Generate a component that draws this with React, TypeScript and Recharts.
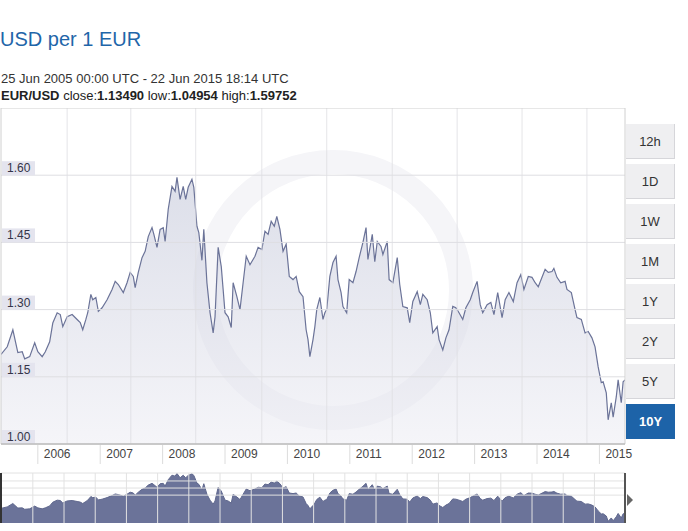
import {
  ComposedChart,
  Area,
  XAxis,
  YAxis,
  ReferenceLine,
} from 'recharts'

// decimal years
const times = [
  2005.41, 2005.51, 2005.6, 2005.68, 2005.75, 2005.79, 2005.87, 2005.95, 2006.0, 2006.07,
  2006.12, 2006.19, 2006.24, 2006.31, 2006.36, 2006.4, 2006.47, 2006.55, 2006.63, 2006.68,
  2006.72, 2006.77, 2006.8, 2006.85, 2006.88, 2006.93, 2006.97, 2007.0, 2007.03, 2007.11,
  2007.19, 2007.24, 2007.29, 2007.37, 2007.43, 2007.48, 2007.53, 2007.56, 2007.61, 2007.67,
  2007.72, 2007.77, 2007.83, 2007.86, 2007.91, 2007.96, 2008.01, 2008.04, 2008.09, 2008.15,
  2008.2, 2008.23, 2008.28, 2008.33, 2008.37, 2008.41, 2008.47, 2008.5, 2008.55, 2008.58,
  2008.63, 2008.66, 2008.71, 2008.76, 2008.81, 2008.84, 2008.89, 2008.94, 2008.97, 2009.0,
  2009.05, 2009.1, 2009.13, 2009.19, 2009.24, 2009.29, 2009.34, 2009.4, 2009.48, 2009.53,
  2009.59, 2009.64, 2009.69, 2009.74, 2009.79, 2009.83, 2009.88, 2009.93, 2009.98, 2010.03,
  2010.09, 2010.14, 2010.19, 2010.25, 2010.3, 2010.33, 2010.36, 2010.41, 2010.44, 2010.47,
  2010.52, 2010.57, 2010.6, 2010.63, 2010.68, 2010.73, 2010.78, 2010.81, 2010.86, 2010.89,
  2010.95, 2010.99, 2011.05, 2011.1, 2011.15, 2011.21, 2011.26, 2011.29, 2011.36, 2011.4,
  2011.44, 2011.5, 2011.53, 2011.6, 2011.63, 2011.69, 2011.76, 2011.8, 2011.85, 2011.92,
  2011.96, 2012.01, 2012.08, 2012.13, 2012.17, 2012.24, 2012.29, 2012.33, 2012.4, 2012.43,
  2012.49, 2012.54, 2012.59, 2012.65, 2012.7, 2012.75, 2012.81, 2012.86, 2012.93, 2012.97,
  2013.04, 2013.09, 2013.13, 2013.2, 2013.26, 2013.31, 2013.37, 2013.44, 2013.49, 2013.55,
  2013.62, 2013.68, 2013.74, 2013.79, 2013.86, 2013.92, 2013.97, 2014.02, 2014.08, 2014.13,
  2014.18, 2014.24, 2014.27, 2014.32, 2014.38, 2014.45, 2014.48, 2014.55, 2014.61, 2014.64,
  2014.71, 2014.77, 2014.82, 2014.88, 2014.93, 2014.98, 2015.03, 2015.06, 2015.11, 2015.14,
  2015.19, 2015.22, 2015.27, 2015.3, 2015.35, 2015.38, 2015.41,
]

const rates = [
  1.2, 1.217, 1.255, 1.204, 1.206, 1.19, 1.195, 1.226, 1.206, 1.195,
  1.206, 1.228, 1.27, 1.293, 1.289, 1.262, 1.284, 1.289, 1.278, 1.271,
  1.255, 1.278, 1.293, 1.334, 1.322, 1.327, 1.296, 1.3, 1.304, 1.322,
  1.345, 1.363, 1.356, 1.338, 1.36, 1.383, 1.374, 1.349, 1.383, 1.416,
  1.43, 1.463, 1.483, 1.468, 1.439, 1.479, 1.483, 1.452, 1.524, 1.575,
  1.564, 1.595, 1.546, 1.575, 1.546, 1.573, 1.591, 1.573, 1.486, 1.472,
  1.41, 1.479, 1.36, 1.293, 1.248, 1.284, 1.439, 1.396, 1.345, 1.293,
  1.284, 1.26, 1.36, 1.329, 1.3, 1.36, 1.419, 1.4, 1.419, 1.439,
  1.434, 1.475, 1.468, 1.497, 1.486, 1.508, 1.479, 1.43, 1.446, 1.374,
  1.367, 1.374, 1.34, 1.329, 1.255, 1.233, 1.195, 1.233, 1.262, 1.3,
  1.327, 1.278, 1.293, 1.3, 1.374, 1.405, 1.419, 1.367, 1.338, 1.307,
  1.293, 1.367, 1.36, 1.385, 1.416, 1.45, 1.483, 1.412, 1.468, 1.407,
  1.452, 1.441, 1.423, 1.452, 1.367, 1.36, 1.416, 1.356, 1.307, 1.304,
  1.271, 1.318, 1.34, 1.311, 1.334, 1.322, 1.293, 1.248, 1.262, 1.233,
  1.21, 1.237, 1.255, 1.307, 1.304, 1.293, 1.278, 1.304, 1.322, 1.338,
  1.363, 1.311, 1.293, 1.311, 1.316, 1.289, 1.338, 1.282, 1.322, 1.338,
  1.318, 1.36, 1.378, 1.345, 1.374, 1.372, 1.36, 1.351, 1.372, 1.39,
  1.383, 1.385, 1.392, 1.372, 1.36, 1.363, 1.345, 1.338, 1.3, 1.282,
  1.278, 1.248, 1.251, 1.237, 1.217, 1.172, 1.137, 1.139, 1.114, 1.054,
  1.092, 1.06, 1.105, 1.143, 1.092, 1.139, 1.143,
]

const yearTicks = [2006, 2007, 2008, 2009, 2010, 2011, 2012, 2013, 2014, 2015]
const rateTicks = [1.0, 1.15, 1.3, 1.45, 1.6]
const gridTimes = [2006.47, 2007.49, 2008.53, 2009.59, 2010.63, 2011.68, 2012.72, 2013.76, 2014.8]
const navGridTimes = [
  2005.92, 2006.42, 2006.92, 2007.42, 2007.92, 2008.42, 2008.92, 2009.42, 2009.92, 2010.42,
  2010.92, 2011.42, 2011.92, 2012.42, 2012.92, 2013.42, 2013.92, 2014.42, 2014.92,
]
const navGridRates = [1.35, 1.43, 1.51]
const ranges = ['12h', '1D', '1W', '1M', '1Y', '2Y', '5Y', '10Y']
const activeRange = '10Y'

const data = times.map((t, i) => ({ t, v: rates[i] }))
const xDomain: [number, number] = [2005.41, 2015.41]

const FONT = "Arial, 'Liberation Sans', sans-serif"

function YearTick({ x, y, payload }: { x?: number; y?: number; payload?: { value: number } }) {
  if (x == null || y == null || !payload) return null
  return (
    <g>
      <line x1={x} x2={x} y1={y + 1} y2={y + 20} stroke="#dcdcdc" />
      <text x={x + 6} y={y + 14} fontSize={12} fill="#444" fontFamily={FONT}>
        {payload.value}
      </text>
    </g>
  )
}

function rateLabel(value: number) {
  return (props: { viewBox?: { x: number; y: number } }) => {
    const vb = props.viewBox
    if (!vb) return null
    return (
      <g>
        <rect x={vb.x + 1} y={vb.y - 14} width={33} height={14} fill="#e4e4ee" />
        <text x={vb.x + 6} y={vb.y - 3} fontSize={12} fill="#343448" fontFamily={FONT}>
          {value.toFixed(2)}
        </text>
      </g>
    )
  }
}

export default function App() {
  return (
    <div style={{ position: 'absolute', left: 0, top: 0, width: 688, height: 531, background: '#fff', fontFamily: FONT }}>
      <svg width={688} height={106} style={{ position: 'absolute', left: 0, top: 0 }}>
        <text x={0} y={46} fontSize={20} fill="#1f66a9" fontFamily={FONT}>USD per 1 EUR</text>
        <text x={1} y={83} fontSize={13} fill="#333" fontFamily={FONT}>
          25 Jun 2005 00:00 UTC - 22 Jun 2015 18:14 UTC
        </text>
        <text x={1} y={100} fontSize={13} fill="#222" fontFamily={FONT}>
          <tspan fontWeight="bold">EUR/USD</tspan>
          <tspan> close:</tspan>
          <tspan fontWeight="bold">1.13490</tspan>
          <tspan> low:</tspan>
          <tspan fontWeight="bold">1.04954</tspan>
          <tspan> high:</tspan>
          <tspan fontWeight="bold">1.59752</tspan>
        </text>
      </svg>

      {/* faint watermark ring */}
      <svg width={688} height={531} style={{ position: 'absolute', left: 0, top: 0 }}>
        <circle cx={333} cy={290} r={128} fill="none" stroke="#f5f5f8" strokeWidth={24} />
      </svg>

      <div style={{ position: 'absolute', left: 0, top: 108 }}>
        <ComposedChart width={640} height={362} data={data} margin={{ top: 0, right: 15, left: 1, bottom: 0 }}>
          <defs>
            <linearGradient id="mainFill" x1="0" y1="0" x2="0" y2="1">
              <stop offset="0%" stopColor="#c0c4d7" stopOpacity={0.92} />
              <stop offset="100%" stopColor="#ececf3" stopOpacity={0.88} />
            </linearGradient>
          </defs>
          <XAxis
            type="number"
            dataKey="t"
            domain={xDomain}
            ticks={yearTicks}
            allowDataOverflow
            height={26}
            tickSize={0}
            tickMargin={0}
            tick={<YearTick />}
            axisLine={{ stroke: '#bdbdbd', strokeWidth: 1.5 }}
            tickLine={false}
            interval={0}
          />
          <YAxis type="number" domain={[1, 1.75]} hide allowDataOverflow />
          <Area
            type="linear"
            dataKey="v"
            stroke="#6b7398"
            strokeWidth={1.2}
            fill="url(#mainFill)"
            isAnimationActive={false}
            dot={false}
            activeDot={false}
          />
          {gridTimes.map((g) => (
            <ReferenceLine key={g} x={g} stroke="#dedee2" strokeOpacity={0.8} />
          ))}
          {rateTicks.map((r) => (
            <ReferenceLine key={r} y={r} stroke="#dedee2" label={rateLabel(r)} />
          ))}
          <ReferenceLine y={1.75} stroke="#d0d0d0" />
          <ReferenceLine x={xDomain[0]} stroke="#d0d0d0" />
          <ReferenceLine x={xDomain[1]} stroke="#d0d0d0" />
        </ComposedChart>
      </div>

      <div style={{ position: 'absolute', left: 0, top: 468 }}>
        <ComposedChart width={640} height={58} data={data} margin={{ top: 5, right: 15, left: 1, bottom: 3 }}>
          {navGridTimes.map((g) => (
            <ReferenceLine key={g} x={g} stroke="#e2e2e2" />
          ))}
          {navGridRates.map((g) => (
            <ReferenceLine key={g} y={g} stroke="#e2e2e2" />
          ))}
          <ReferenceLine y={1.6} stroke="#e2e2e2" />
          <XAxis type="number" dataKey="t" domain={xDomain} hide allowDataOverflow />
          <YAxis type="number" domain={[1.035, 1.6]} hide allowDataOverflow />
          <Area
            type="linear"
            dataKey="v"
            stroke="#5f678d"
            strokeWidth={1}
            fill="#6b7399"
            fillOpacity={1}
            isAnimationActive={false}
            dot={false}
            activeDot={false}
          />
          <ReferenceLine x={xDomain[0]} stroke="#333" strokeWidth={2} />
          <ReferenceLine x={xDomain[1]} stroke="#555" strokeWidth={2} />
        </ComposedChart>
      </div>
      <svg width={12} height={14} style={{ position: 'absolute', left: 626, top: 493 }}>
        <polygon points="1,1 7,7 1,13" fill="#666" />
      </svg>

      {ranges.map((r, i) => {
        const active = r === activeRange
        return (
          <div
            key={r}
            style={{
              position: 'absolute',
              left: 626,
              top: 124 + i * 40,
              width: 49,
              height: 35,
              boxSizing: 'border-box',
              background: active ? '#1d63a8' : '#efeff1',
              borderRight: active ? 'none' : '1px solid #d6d6da',
              borderBottom: active ? 'none' : '1px solid #d6d6da',
              color: active ? '#fff' : '#333',
              fontWeight: active ? 'bold' : 'normal',
              fontSize: 13,
              lineHeight: '35px',
              textAlign: 'center',
            }}
          >
            {r}
          </div>
        )
      })}
    </div>
  )
}
